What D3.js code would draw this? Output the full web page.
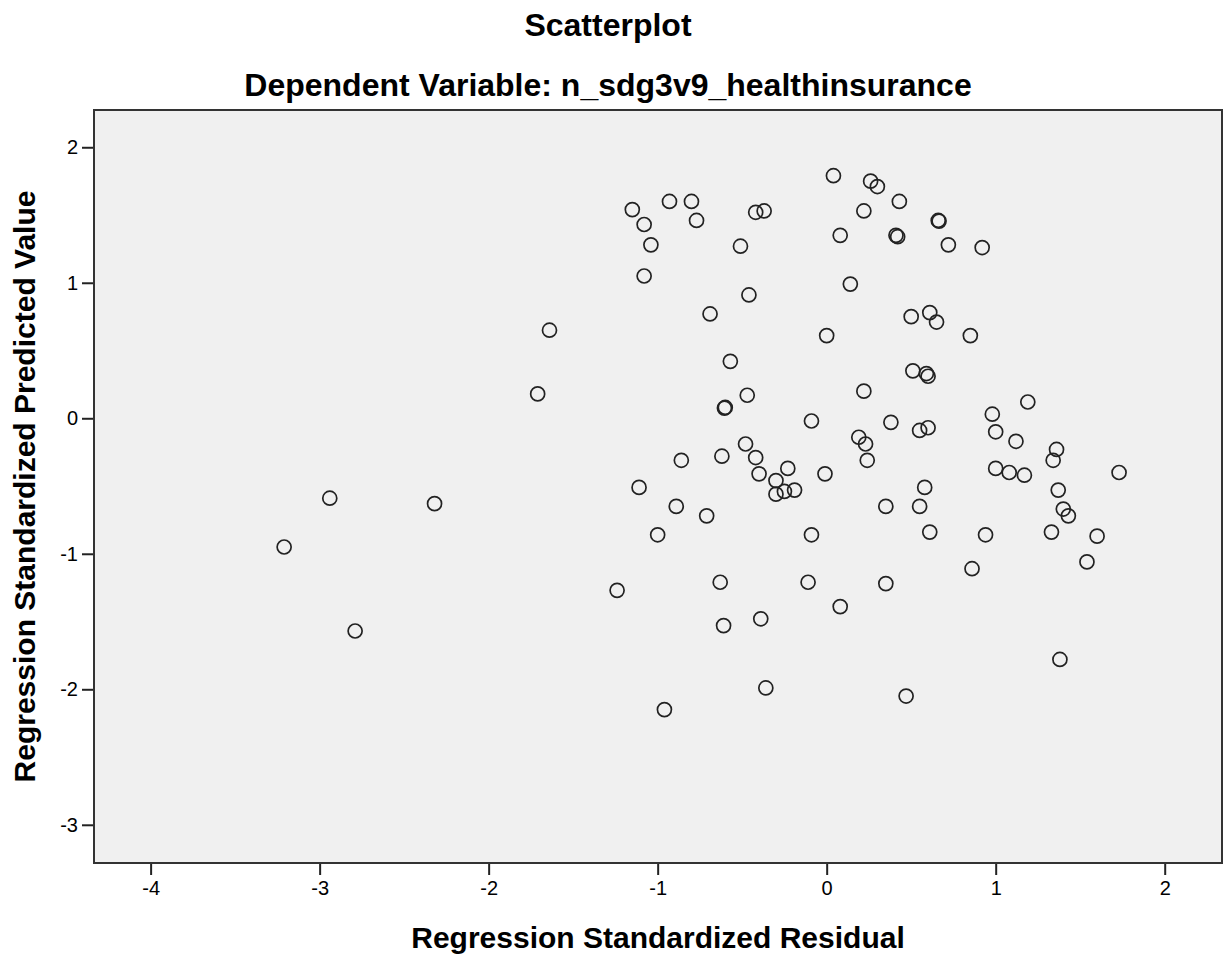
<!DOCTYPE html>
<head>
<meta charset="utf-8">
<title>Scatterplot</title>
<style>
body { margin: 0; background: #fff; }
text { font-family: "Liberation Sans", Arial, sans-serif; fill: #000; }
.title { font-size: 32px; font-weight: bold; }
.axis-title { font-size: 30px; font-weight: bold; }
circle.pt { fill: none; stroke: #222; stroke-width: 1.7px; }
</style>
</head>
<body>
<script src="https://cdn.jsdelivr.net/npm/d3@7"></script>
<script>

// regression standardized residual (x) and predicted value (y)
var residual = [0.04, 0.26, 0.30, 0.43, -1.15, -0.93, -0.80, -1.08, -0.77, -0.42,
  -0.37, 0.22, 0.66, 0.665, -1.04, -0.51, 0.08, 0.41, 0.42, 0.72,
  0.92, -1.08, 0.14, -0.46, -0.69, 0.50, 0.61, 0.65, -1.64, 0.00,
  0.85, -0.57, 0.51, 0.59, 0.60, 0.22, -1.71, -0.47, -0.60, -0.605,
  1.19, 0.98, -0.09, 0.38, 0.55, 0.60, 1.00, -0.48, 0.19, 0.23,
  0.24, 1.12, 1.36, 1.34, -0.86, -0.62, -0.42, -0.23, -0.40, -0.01,
  1.00, 1.08, 1.17, 1.73, -0.30, -0.30, -0.25, -0.19, -1.11, 0.58,
  1.37, -0.89, 0.35, 0.55, -0.71, 1.40, 1.43, -1.00, -0.09, 0.61,
  0.94, 1.33, 1.60, 1.54, 0.86, -0.63, -0.11, 0.35, -1.24, 0.08,
  -0.39, -0.61, 1.38, -0.36, 0.47, -0.96, -3.21, -2.94, -2.32, -2.79];

var predicted = [1.79, 1.75, 1.71, 1.60, 1.54, 1.60, 1.60, 1.43, 1.46, 1.52,
  1.53, 1.53, 1.46, 1.455, 1.28, 1.27, 1.35, 1.35, 1.34, 1.28,
  1.26, 1.05, 0.99, 0.91, 0.77, 0.75, 0.78, 0.71, 0.65, 0.61,
  0.61, 0.42, 0.35, 0.33, 0.31, 0.20, 0.18, 0.17, 0.08, 0.075,
  0.12, 0.03, -0.02, -0.03, -0.09, -0.07, -0.10, -0.19, -0.14, -0.19,
  -0.31, -0.17, -0.23, -0.31, -0.31, -0.28, -0.29, -0.37, -0.41, -0.41,
  -0.37, -0.40, -0.42, -0.40, -0.46, -0.56, -0.54, -0.53, -0.51, -0.51,
  -0.53, -0.65, -0.65, -0.65, -0.72, -0.67, -0.72, -0.86, -0.86, -0.84,
  -0.86, -0.84, -0.87, -1.06, -1.11, -1.21, -1.21, -1.22, -1.27, -1.39,
  -1.48, -1.53, -1.78, -1.99, -2.05, -2.15, -0.95, -0.59, -0.63, -1.57];

var xDomain = [-4.335, 2.339];
var yDomain = [-3.282, 2.275];
var xTicks = [-4, -3, -2, -1, 0, 1, 2];
var yTicks = [-3, -2, -1, 0, 1, 2];

var width = 1231,
    height = 960;

var margin = {top: 110, right: 9, bottom: 97, left: 94};
var plotW = width - margin.left - margin.right,
    plotH = height - margin.top - margin.bottom;

var svg = d3.select("body").append("svg")
    .attr("width", width)
    .attr("height", height);

// titles
svg.append("text")
    .attr("class", "title")
    .attr("x", 608)
    .attr("y", 36)
    .attr("text-anchor", "middle")
    .text("Scatterplot");

svg.append("text")
    .attr("class", "title")
    .attr("x", 608)
    .attr("y", 96)
    .attr("text-anchor", "middle")
    .text("Dependent Variable: n_sdg3v9_healthinsurance");

var g = svg.append("g")
    .attr("transform", "translate(" + margin.left + "," + margin.top + ")");

var x = d3.scaleLinear().domain(xDomain).range([0, plotW]);
var y = d3.scaleLinear().domain(yDomain).range([plotH, 0]);

// plain hyphen minus, like the original
var fmt = function(d) { return String(d); };

// plot background
g.append("rect")
    .attr("width", plotW)
    .attr("height", plotH)
    .attr("fill", "#f0f0f0");

// axes
var xAxis = g.append("g")
    .attr("transform", "translate(0," + plotH + ")")
    .call(d3.axisBottom(x).tickValues(xTicks).tickFormat(fmt).tickSize(12).tickPadding(6).tickSizeOuter(0));

var yAxis = g.append("g")
    .call(d3.axisLeft(y).tickValues(yTicks).tickFormat(fmt).tickSize(12).tickPadding(4).tickSizeOuter(0));

[xAxis, yAxis].forEach(function(a) {
  a.select(".domain").remove();
  a.selectAll(".tick line").attr("stroke", "#222").attr("stroke-width", 2);
  a.selectAll(".tick text")
      .attr("fill", "#000")
      .style("font-size", "20px")
      .style("font-family", "'Liberation Sans', Arial, sans-serif");
});

// frame
g.append("rect")
    .attr("width", plotW)
    .attr("height", plotH)
    .attr("fill", "none")
    .attr("stroke", "#333")
    .attr("stroke-width", 2);

// points
var pts = residual.map(function(r, i) { return {x: r, y: predicted[i]}; });

g.append("g")
    .selectAll("circle")
    .data(pts)
    .enter()
    .append("circle")
    .attr("class", "pt")
    .attr("cx", function(d) { return x(d.x); })
    .attr("cy", function(d) { return y(d.y); })
    .attr("r", 7);

// axis titles
svg.append("text")
    .attr("class", "axis-title")
    .attr("x", margin.left + plotW / 2)
    .attr("y", 948)
    .attr("text-anchor", "middle")
    .text("Regression Standardized Residual");

svg.append("text")
    .attr("class", "axis-title")
    .attr("transform", "translate(35," + (margin.top + plotH / 2) + ") rotate(-90)")
    .attr("text-anchor", "middle")
    .text("Regression Standardized Predicted Value");

</script>
</body>
</html>
